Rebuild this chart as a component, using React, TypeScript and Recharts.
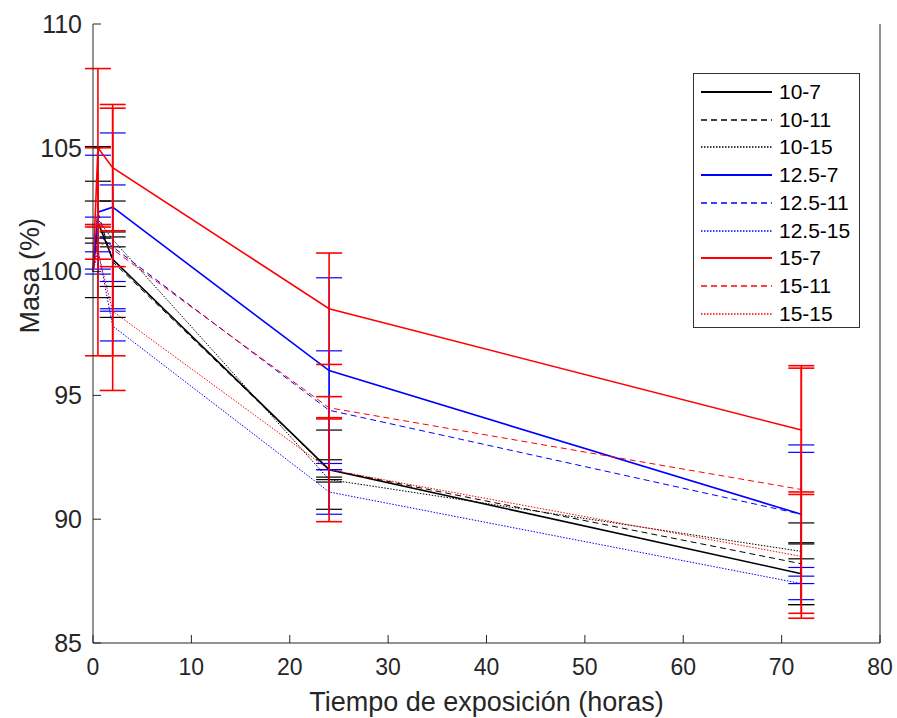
import { ErrorBar, Legend, Line, LineChart, XAxis, YAxis } from "recharts";

const times = [0, 0.5, 2, 24, 72];
const xTicks = [0, 10, 20, 30, 40, 50, 60, 70, 80];
const yTicks = [85, 90, 95, 100, 105, 110];

const names = ["10-7", "10-11", "10-15", "12.5-7", "12.5-11", "12.5-15", "15-7", "15-11", "15-15"];

const m10_7 = [100, 102.0, 100.5, 92.0, 87.8];
const m10_11 = [100, 102.4, 100.4, 92.0, 88.2];
const m10_15 = [100, 102.1, 101.3, 91.6, 88.7];
const m12_7 = [100, 102.4, 102.6, 96.0, 90.2];
const m12_11 = [100, 101.5, 101.0, 94.4, 90.2];
const m12_15 = [100, 100.9, 97.8, 91.1, 87.4];
const m15_7 = [100, 105.0, 104.2, 98.5, 93.6];
const m15_11 = [100, 101.2, 100.9, 94.5, 91.2];
const m15_15 = [100, 100.8, 98.4, 92.0, 88.5];

const e10_7 = [0, 3.05, 2.35, 1.6, 1.25];
const e10_11 = [0, 1.25, 1.0, 0.4, 1.65];
const e10_15 = [0, 0.75, 0.3, 0.1, 0.3];
const e12_7 = [0, 2.3, 3.0, 3.75, 2.8];
const e12_11 = [0, 0.7, 2.5, 2.4, 2.5];
const e12_15 = [0, 1.0, 0.6, 0.9, 0.65];
const e15_7 = [0, 3.2, 2.55, 2.25, 2.5];
const e15_11 = [0, 0.7, 5.7, 0.45, 5.0];
const e15_15 = [0, 4.2, 1.8, 2.1, 2.5];

const means = [m10_7, m10_11, m10_15, m12_7, m12_11, m12_15, m15_7, m15_11, m15_15];
const errs = [e10_7, e10_11, e10_15, e12_7, e12_11, e12_15, e15_7, e15_11, e15_15];

const colors = ["#000", "#000", "#000", "#0000ff", "#0000ff", "#0000ff", "#ff0000", "#ff0000", "#ff0000"];
const dashes = ["", "6 4", "1.5 1.5", "", "6 4", "1.5 1.5", "", "6 4", "1.5 1.5"];
const widths = [1.6, 1, 1, 1.6, 1, 1, 1.6, 1, 1];

const data = times.map((t, i) => {
  const row: Record<string, number> = { t };
  means.forEach((m, k) => {
    row["s" + k] = m[i];
    row["e" + k] = errs[k][i];
  });
  return row;
});

const font = "'Liberation Sans', Arial, sans-serif";

function LegendBox() {
  return (
    <div
      style={{
        width: 165,
        height: 253,
        border: "1px solid #333",
        background: "#fff",
        fontFamily: font,
        fontSize: 21,
        color: "#000",
      }}
    >
      {names.map((n, k) => (
        <div key={n} style={{ height: 27.75, display: "flex", alignItems: "center", marginTop: k === 0 ? 4 : 0 }}>
          <svg width={85} height={10} style={{ flex: "none" }}>
            <line
              x1={7}
              x2={78}
              y1={5}
              y2={5}
              stroke={colors[k]}
              strokeWidth={widths[k] + 0.4}
              strokeDasharray={dashes[k] || undefined}
            />
          </svg>
          <span>{n}</span>
        </div>
      ))}
    </div>
  );
}

export default function App() {
  return (
    <div style={{ position: "absolute", left: 0, top: 0, background: "#fff" }}>
      <LineChart width={897} height={718} data={data} margin={{ top: 24, right: 16, bottom: 0, left: 0 }}>
        <XAxis
          dataKey="t"
          type="number"
          domain={[0, 80]}
          ticks={xTicks}
          height={75}
          tickSize={-8}
          tickMargin={24}
          stroke="#262626"
          tick={{ fill: "#262626", fontSize: 23, fontFamily: font }}
          label={{ value: "Tiempo de exposición (horas)", position: "insideBottom", offset: 7, fill: "#262626", fontSize: 27, fontFamily: font }}
        />
        <XAxis xAxisId="top" orientation="top" type="number" domain={[0, 80]} ticks={xTicks} height={0} tickSize={-8} tick={false} stroke="#262626" />
        <YAxis
          type="number"
          domain={[85, 110]}
          ticks={yTicks}
          width={93}
          tickSize={-8}
          tickMargin={19}
          stroke="#262626"
          tick={{ fill: "#262626", fontSize: 25, fontFamily: font }}
          label={{ value: "Masa (%)", angle: -90, position: "insideLeft", offset: 29, fill: "#262626", fontSize: 27, fontFamily: font }}
        />
        <YAxis yAxisId="r" orientation="right" type="number" domain={[85, 110]} ticks={yTicks} width={1} tickSize={-8} tick={false} stroke="#262626" />
        {means.map((_, k) => (
          <Line
            key={k}
            dataKey={"s" + k}
            name={names[k]}
            type="linear"
            stroke={colors[k]}
            strokeWidth={widths[k]}
            strokeDasharray={dashes[k] || undefined}
            dot={false}
            activeDot={false}
            isAnimationActive={false}
          >
            <ErrorBar dataKey={"e" + k} direction="y" width={13} stroke={colors[k]} strokeWidth={k >= 6 ? 1.6 : 1.2} isAnimationActive={false} />
          </Line>
        ))}
        <Legend
          layout="vertical"
          align="center"
          verticalAlign="middle"
          content={() => <LegendBox />}
          wrapperStyle={{ position: "absolute", left: 693, top: 73, width: 167 }}
        />
      </LineChart>
    </div>
  );
}
